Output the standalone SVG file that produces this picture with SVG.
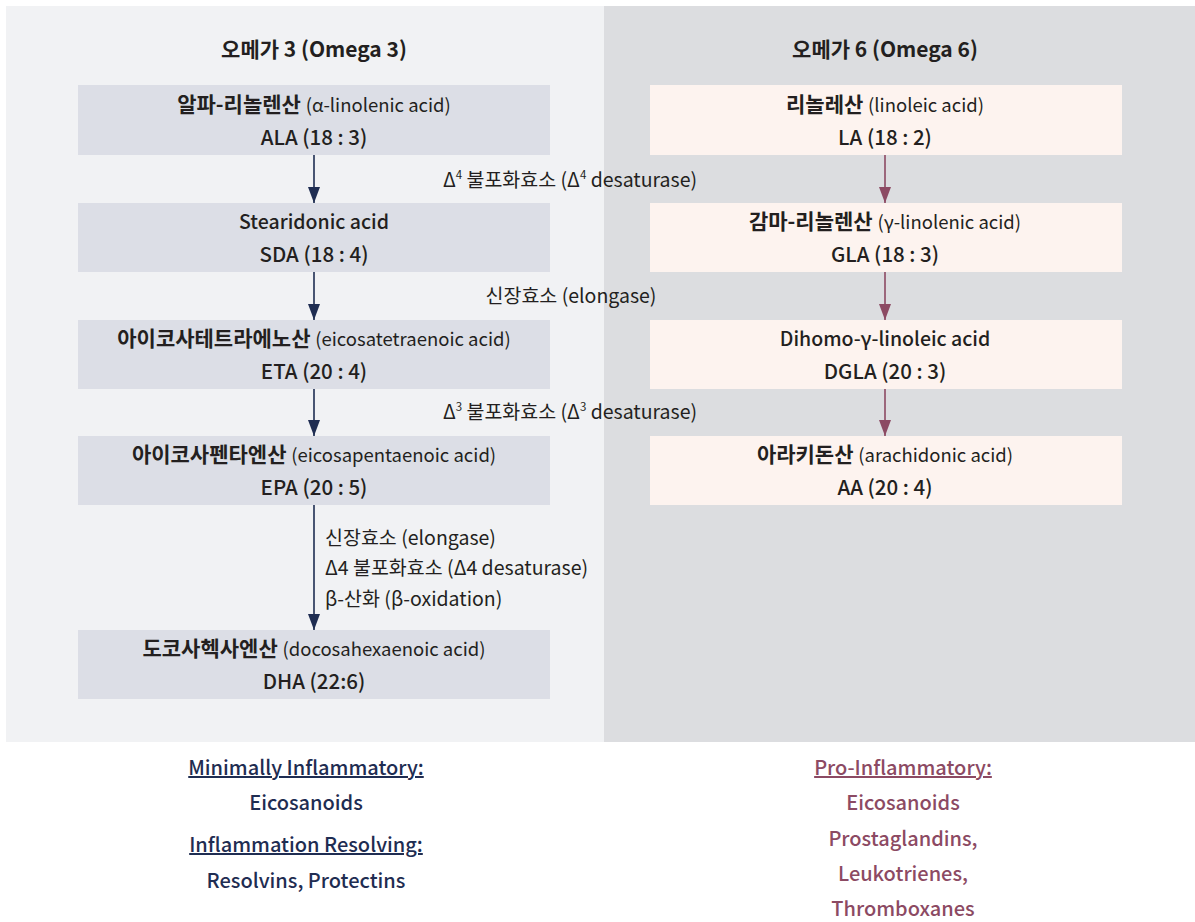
<svg xmlns="http://www.w3.org/2000/svg" width="1195" height="922" viewBox="0 0 1195 922">
  <style>
    text { font-family: "Noto Sans CJK KR", "Noto Sans", sans-serif; fill: #231f20; }
    .title { font-size: 21px; font-weight: 700; text-anchor: middle; }
    .nm { font-size: 21px; font-weight: 700; text-anchor: middle; }
    .nm-en { font-size: 19.5px; font-weight: 500; text-anchor: middle; }
    .en { font-size: 18.5px; font-weight: 400; }
    .code { font-size: 20.5px; font-weight: 500; text-anchor: middle; }
    .lbl { font-size: 19.5px; font-weight: 400; }
    .sup { font-size: 11.5px; }
    .n3 rect { fill: #dcdee6; }
    .n6 rect { fill: #fdf3ef; }
    .c3 { stroke: #1f2d52; stroke-width: 1.6; fill: none; }
    .c6 { stroke: #8c4a63; stroke-width: 1.6; fill: none; }
    .out { font-size: 20px; font-weight: 500; text-anchor: middle; }
    .navy { fill: #1f2d52; }
    .mauve { fill: #8c4a63; }
  </style>
  <defs>
    <marker id="ah3" viewBox="0 0 16 12" refX="16" refY="6" markerWidth="16" markerHeight="12" markerUnits="userSpaceOnUse" orient="auto">
      <path d="M0,0 L16,6 L0,12 z" fill="#1f2d52"/>
    </marker>
    <marker id="ah6" viewBox="0 0 16 12" refX="16" refY="6" markerWidth="16" markerHeight="12" markerUnits="userSpaceOnUse" orient="auto">
      <path d="M0,0 L16,6 L0,12 z" fill="#8c4a63"/>
    </marker>
  </defs>

  <rect width="1195" height="922" fill="#ffffff"/>

  <!-- column backgrounds and headings -->
  <g id="panels">
    <rect x="6" y="6" width="598" height="736" fill="#f1f2f4"/>
    <rect x="604" y="6" width="591" height="736" fill="#dcdde0"/>
    <text class="title" x="314" y="57">오메가 3 (Omega 3)</text>
    <text class="title" x="885" y="57">오메가 6 (Omega 6)</text>
  </g>

  <!-- connectors and enzyme labels -->
  <g id="connectors">
    <line class="c3" x1="314" y1="155" x2="314" y2="203" marker-end="url(#ah3)"/>
    <line class="c3" x1="314" y1="272" x2="314" y2="320" marker-end="url(#ah3)"/>
    <line class="c3" x1="314" y1="389" x2="314" y2="436" marker-end="url(#ah3)"/>
    <line class="c3" x1="314" y1="505" x2="314" y2="630" marker-end="url(#ah3)"/>
    <line class="c6" x1="885" y1="155" x2="885" y2="203" marker-end="url(#ah6)"/>
    <line class="c6" x1="885" y1="272" x2="885" y2="320" marker-end="url(#ah6)"/>
    <line class="c6" x1="885" y1="389" x2="885" y2="436" marker-end="url(#ah6)"/>

    <text class="lbl" x="570" y="187" text-anchor="middle">Δ<tspan class="sup" dy="-8">4</tspan><tspan dy="8"> 불포화효소 (Δ</tspan><tspan class="sup" dy="-8">4</tspan><tspan dy="8"> desaturase)</tspan></text>
    <text class="lbl" x="571" y="303" text-anchor="middle">신장효소 (elongase)</text>
    <text class="lbl" x="570" y="419" text-anchor="middle">Δ<tspan class="sup" dy="-8">3</tspan><tspan dy="8"> 불포화효소 (Δ</tspan><tspan class="sup" dy="-8">3</tspan><tspan dy="8"> desaturase)</tspan></text>

    <text class="lbl" x="325" y="545">신장효소 (elongase)</text>
    <text class="lbl" x="325" y="575">Δ4 불포화효소 (Δ4 desaturase)</text>
    <text class="lbl" x="325" y="606">β-산화 (β-oxidation)</text>
  </g>

  <!-- omega-3 pathway -->
  <g id="ala" class="n3">
    <rect x="78" y="85" width="472" height="70"/>
    <text class="nm" x="314" y="112">알파-리놀렌산 <tspan class="en">(α-linolenic acid)</tspan></text>
    <text class="code" x="314" y="145">ALA (18 : 3)</text>
  </g>
  <g id="sda" class="n3">
    <rect x="78" y="203" width="472" height="69"/>
    <text class="nm-en" x="314" y="229">Stearidonic acid</text>
    <text class="code" x="314" y="262">SDA (18 : 4)</text>
  </g>
  <g id="eta" class="n3">
    <rect x="78" y="320" width="472" height="69"/>
    <text class="nm" x="314" y="346">아이코사테트라에노산 <tspan class="en">(eicosatetraenoic acid)</tspan></text>
    <text class="code" x="314" y="379">ETA (20 : 4)</text>
  </g>
  <g id="epa" class="n3">
    <rect x="78" y="436" width="472" height="69"/>
    <text class="nm" x="314" y="462">아이코사펜타엔산 <tspan class="en">(eicosapentaenoic acid)</tspan></text>
    <text class="code" x="314" y="495">EPA (20 : 5)</text>
  </g>
  <g id="dha" class="n3">
    <rect x="78" y="630" width="472" height="69"/>
    <text class="nm" x="314" y="656">도코사헥사엔산 <tspan class="en">(docosahexaenoic acid)</tspan></text>
    <text class="code" x="314" y="689">DHA (22:6)</text>
  </g>

  <!-- omega-6 pathway -->
  <g id="la" class="n6">
    <rect x="650" y="85" width="472" height="70"/>
    <text class="nm" x="885" y="112">리놀레산 <tspan class="en">(linoleic acid)</tspan></text>
    <text class="code" x="885" y="145">LA (18 : 2)</text>
  </g>
  <g id="gla" class="n6">
    <rect x="650" y="203" width="472" height="69"/>
    <text class="nm" x="885" y="229">감마-리놀렌산 <tspan class="en">(γ-linolenic acid)</tspan></text>
    <text class="code" x="885" y="262">GLA (18 : 3)</text>
  </g>
  <g id="dgla" class="n6">
    <rect x="650" y="320" width="472" height="69"/>
    <text class="nm-en" x="885" y="346">Dihomo-γ-linoleic acid</text>
    <text class="code" x="885" y="379">DGLA (20 : 3)</text>
  </g>
  <g id="aa" class="n6">
    <rect x="650" y="436" width="472" height="69"/>
    <text class="nm" x="885" y="462">아라키돈산 <tspan class="en">(arachidonic acid)</tspan></text>
    <text class="code" x="885" y="495">AA (20 : 4)</text>
  </g>

  <!-- outcomes -->
  <g id="omega3-outcome">
    <text class="out navy" x="306" y="775" text-decoration="underline">Minimally Inflammatory:</text>
    <text class="out navy" x="306" y="810">Eicosanoids</text>
    <text class="out navy" x="306" y="852" text-decoration="underline">Inflammation Resolving:</text>
    <text class="out navy" x="306" y="888">Resolvins, Protectins</text>
  </g>
  <g id="omega6-outcome">
    <text class="out mauve" x="903" y="775" text-decoration="underline">Pro-Inflammatory:</text>
    <text class="out mauve" x="903" y="810">Eicosanoids</text>
    <text class="out mauve" x="903" y="846">Prostaglandins,</text>
    <text class="out mauve" x="903" y="881">Leukotrienes,</text>
    <text class="out mauve" x="903" y="916">Thromboxanes</text>
  </g>
</svg>
